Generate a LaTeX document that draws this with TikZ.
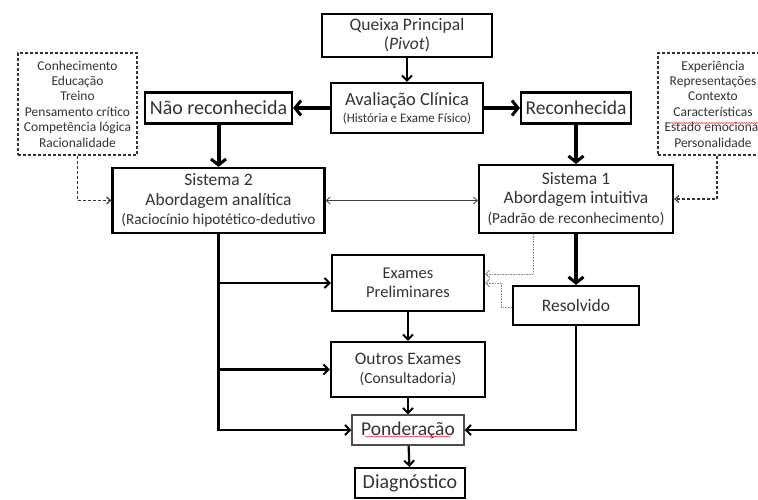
\documentclass[tikz,border=0pt]{standalone}
\usepackage{fontspec}
\setmainfont{Carlito}
\usepackage{tikz}
\usetikzlibrary{arrows.meta}
\usetikzlibrary{decorations.pathmorphing}
\definecolor{inkgray}{gray}{0.2}
\definecolor{dotgray}{gray}{0.55}
\tikzset{
  box/.style={draw=black, line width=2.2pt, inner sep=0pt, align=center, text=inkgray},
  softbox/.style={box, draw=black!70, line width=1.2pt},
  dashbox/.style={draw=inkgray, line width=1.1pt, dash pattern=on 3pt off 2pt, inner sep=0pt, align=center, text=inkgray,
    font=\fontsize{13.5}{15.4}\selectfont},
  arr/.style={line width=2.2pt, -{Straight Barb[length=5pt,width=10pt,line width=2pt]}},
  bigarr/.style={line width=4pt, -{Straight Barb[length=6pt,width=15pt,line width=3pt]}},
  thinarr/.style={line width=0.8pt, draw=black!75, {Straight Barb[length=4pt,width=7pt]}-{Straight Barb[length=4pt,width=7pt]}},
  dasharr/.style={line width=1.1pt, draw=inkgray, dash pattern=on 3pt off 2pt, -{Straight Barb[length=4pt,width=7pt]}},
  dotarr/.style={line width=0.9pt, draw=dotgray, dash pattern=on 1pt off 0.6pt, -{Straight Barb[length=4pt,width=8pt]}},
  squiggle/.style={draw=red!80, line width=0.5pt, decorate, decoration={snake, amplitude=0.6pt, segment length=2.5pt}}
}
\newcommand{\sz}[2]{\fontsize{#1}{#2}\selectfont}
\newcommand{\flownode}[6][box]{\node[#1, minimum width=#4, minimum height=#5] (#2) at (#3) {#6};}

\begin{document}
\begin{tikzpicture}[x=1pt,y=-1pt]
        \useasboundingbox (0,0) rectangle (758,499);

        %boxes
        \flownode[box,font=\sz{17.5}{19}]{queixa}{407,35.5}{170pt}{43pt}{Queixa Principal\\(\textit{Pivot})}
        \flownode[box,font=\sz{18.5}{17}]{aval}{407,108}{152pt}{50pt}{Avaliação Clínica\\\sz{13}{17}(História e Exame Físico)}
        \flownode[box,font=\sz{20}{22}]{naorec}{218.5,108}{147pt}{31pt}{Não reconhecida}
        \flownode[box,font=\sz{19.5}{22}]{rec}{576,108}{110pt}{31pt}{Reconhecida}
        \flownode[box,font=\sz{17.5}{19.5}]{sis2}{218.5,200.5}{212pt}{65pt}{Sistema 2\\Abordagem analítica\\\sz{15.3}{19.5}(Raciocínio hipotético-dedutivo}
        \flownode[box,font=\sz{17.5}{19.5}]{sis1}{576,199}{194pt}{68pt}{Sistema 1\\Abordagem intuitiva\\\sz{15.3}{19.5}(Padrão de reconhecimento)}
        \flownode[dashbox]{conh}{77.5,104}{119pt}{102pt}{Conhecimento\\Educação\\Treino\\Pensamento crítico\\Competência lógica\\Racionalidade}
        \flownode[dashbox]{exper}{713,104}{110pt}{102pt}{Experiência\\Representações\\Contexto\\Características\\Estado emocional\\Personalidade}
        \flownode[box,font=\sz{16.5}{18.5}]{exprel}{408,283}{152pt}{56pt}{Exames\\Preliminares}
        \flownode[box,font=\sz{17.5}{19}]{outros}{408,369.5}{154pt}{55pt}{Outros Exames\\\sz{15.5}{19}(Consultadoria)}
        \flownode[box,font=\sz{17.5}{20}]{resolv}{576,305.5}{126pt}{39pt}{Resolvido}
        \flownode[softbox,font=\sz{19.5}{22}]{ponder}{408,430}{112pt}{30pt}{Ponderação}
        \flownode[box,font=\sz{20}{22}]{diag}{410,483}{110pt}{30pt}{Diagnóstico}

        %spelling marks
        \draw[squiggle] ([xshift=-42pt,yshift=-19pt]exper.center) -- ([xshift=47pt,yshift=-19pt]exper.center);
        \draw[squiggle] ([xshift=-43pt,yshift=-6.5pt]ponder.center) -- ([xshift=43pt,yshift=-6.5pt]ponder.center);

        %arrows
        \draw[arr] (queixa) -- (aval);
        \draw[bigarr] (aval) -- (naorec);
        \draw[bigarr] (aval) -- (rec);
        \draw[bigarr] (naorec) -- (sis2);
        \draw[bigarr] (rec) -- (sis1);
        \draw[thinarr] (sis2.east) -- (sis2.east -| sis1.west);
        \draw[dasharr] (conh) |- (sis2);
        \draw[dasharr] ([xshift=4pt]exper.south) |- (sis1);
        \draw[arr] (sis2) |- (ponder);
        \draw[arr] (sis2 |- exprel) -- (exprel);
        \draw[arr] (sis2 |- outros) -- (outros);
        \draw[arr] (exprel) -- (outros);
        \draw[arr] (outros) -- (ponder);
        \draw[arr] (ponder) -- (diag);
        \draw[bigarr] (sis1) -- (resolv);
        \draw[arr] (resolv) |- (ponder);
        \draw[dotarr] ([xshift=-43pt]sis1.south) |- ([yshift=9pt]exprel.east);
        \draw[dotarr] ([yshift=-1.5pt]resolv.west) -| ([xshift=16pt]exprel.east) -- (exprel.east);

\end{tikzpicture}
\end{document}
